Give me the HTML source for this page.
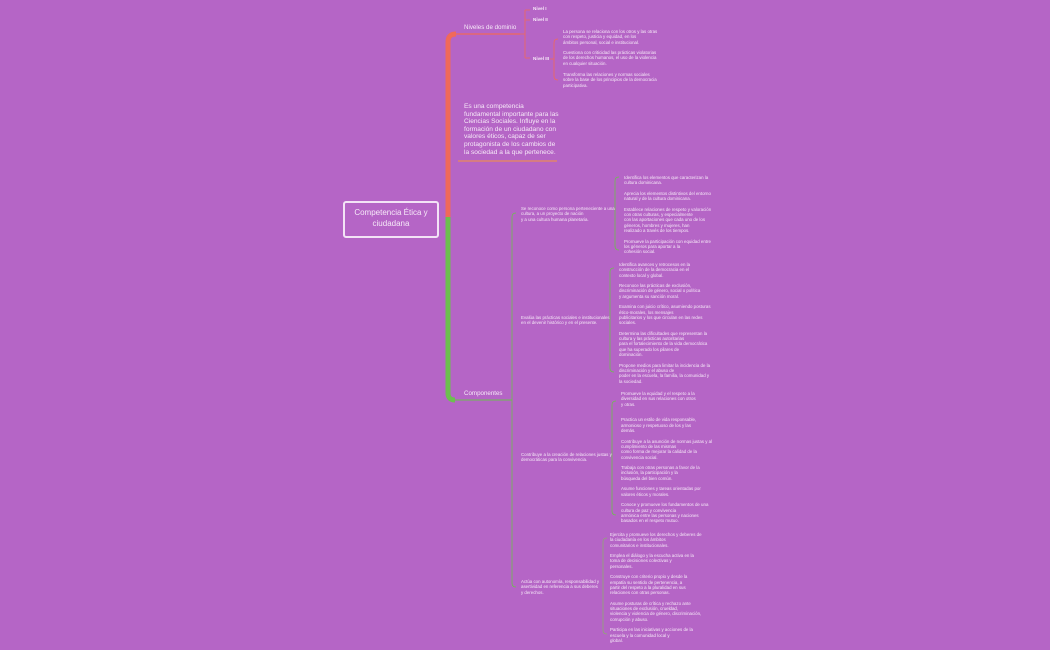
<!DOCTYPE html>
<html><head><meta charset="utf-8"><style>
html,body{margin:0;padding:0}
body{width:1050px;height:650px;background:#b565c6;position:relative;overflow:hidden;font-family:"Liberation Sans",sans-serif;color:#f6e9f8}
.t{position:absolute;font-size:4.4px;line-height:5.3px;white-space:nowrap}
.b{position:absolute;font-size:4.6px;font-weight:bold}
svg{position:absolute;left:0;top:0}
</style></head><body>
<svg width="1050" height="650">
<path d="M448 217 L448 42 Q448 34 456 34" stroke="#f0695a" stroke-width="5" fill="none"/>
<line x1="456" y1="34" x2="520" y2="34" stroke="#f0695a" stroke-width="1.2"/>
<path d="M520 34 L525 34 M525 10 L525 58 M525 10 L530 10 M525 20 L530 20 M525 58 L530 58" stroke="#f0695a" stroke-width="0.8" fill="none"/>
<path d="M558 39 Q554 39 554 43 L554 76 Q554 80 558 80 M554 59 L550 59" stroke="#f0695a" stroke-width="0.8" fill="none"/>
<line x1="458" y1="161" x2="557" y2="161" stroke="#e98a5a" stroke-width="1.2"/>
<path d="M448 217 L448 393 Q448 400 455 400" stroke="#6cbf4f" stroke-width="5" fill="none"/>
<line x1="455" y1="400" x2="512" y2="400" stroke="#6cbf4f" stroke-width="1"/>
<path d="M516 213 Q512 213 512 217 L512 583 Q512 587 516 587" stroke="#6cbf4f" stroke-width="0.8" fill="none"/>
<path d="M619 177 Q615 177 615 181 L615 246 Q615 250 619 250" stroke="#6cbf4f" stroke-width="0.8" fill="none"/>
<path d="M614 268 Q610 268 610 272 L610 368 Q610 372 614 372" stroke="#6cbf4f" stroke-width="0.8" fill="none"/>
<path d="M616 401 Q612 401 612 405 L612 511 Q612 515 616 515" stroke="#6cbf4f" stroke-width="0.8" fill="none"/>
<path d="M607 538 Q603 538 603 542 L603 630 Q603 634 607 634" stroke="#8fa874" stroke-width="0.8" fill="none"/>
</svg>
<div style="position:absolute;left:343px;top:201px;width:92px;height:29px;border:2px solid #f3e3f6;border-radius:3px;font-size:8px;line-height:11px;text-align:center;padding-top:4px">Competencia Ética y<br>ciudadana</div>
<div style="position:absolute;left:464px;top:24px;font-size:6.2px">Niveles de dominio</div>
<div style="position:absolute;left:464px;top:390px;font-size:6.2px">Componentes</div>
<div class="b" style="left:533px;top:6px">Nivel I</div>
<div class="b" style="left:533px;top:17px">Nivel II</div>
<div class="b" style="left:533px;top:56px">Nivel III</div>
<div class="t" style="left:563px;top:29px">La persona se relaciona con los otros y las otras<br>con respeto, justicia y equidad, en los<br>ámbitos personal, social e institucional.</div>
<div class="t" style="left:563px;top:50px">Cuestiona con criticidad las prácticas violatorias<br>de los derechos humanos, el uso de la violencia<br>en cualquier situación.</div>
<div class="t" style="left:563px;top:72px">Transforma las relaciones y normas sociales<br>sobre la base de los principios de la democracia<br>participativa.</div>
<div style="position:absolute;left:464px;top:103px;font-size:6.6px;line-height:7.6px">Es una competencia<br>fundamental importante para las<br>Ciencias Sociales. Influye en la<br>formación de un ciudadano con<br>valores éticos, capaz de ser<br>protagonista de los cambios de<br>la sociedad a la que pertenece.</div>
<div class="t" style="left:521px;top:206px">Se reconoce como persona perteneciente a una<br>cultura, a un proyecto de nación<br>y a una cultura humana planetaria.</div>
<div class="t" style="left:521px;top:315px">Evalúa las prácticas sociales e institucionales<br>en el devenir histórico y en el presente.</div>
<div class="t" style="left:521px;top:452px">Contribuye a la creación de relaciones justas y<br>democráticas para la convivencia.</div>
<div class="t" style="left:521px;top:579px">Actúa con autonomía, responsabilidad y<br>asertividad en referencia a sus deberes<br>y derechos.</div>
<div class="t" style="left:624px;top:175px">Identifica los elementos que caracterizan la<br>cultura dominicana.<br><br>Aprecia los elementos distintivos del entorno<br>natural y de la cultura dominicana.<br><br>Establece relaciones de respeto y valoración<br>con otras culturas, y especialmente<br>con las aportaciones que cada uno de los<br>géneros, hombres y mujeres, han<br>realizado a través de los tiempos.<br><br>Promueve la participación con equidad entre<br>los géneros para aportar a la<br>cohesión social.</div>
<div class="t" style="left:619px;top:262px">Identifica avances y retrocesos en la<br>construcción de la democracia en el<br>contexto local y global.<br><br>Reconoce las prácticas de exclusión,<br>discriminación de género, social o política<br>y argumenta su sanción moral.<br><br>Examina con juicio crítico, asumiendo posturas<br>ético-morales, los mensajes<br>publicitarios y los que circulan en las redes<br>sociales.<br><br>Determina las dificultades que representan la<br>cultura y las prácticas autoritarias<br>para el fortalecimiento de la vida democrática<br>que ha superado los pilares de<br>dominación.<br><br>Propone medios para limitar la incidencia de la<br>discriminación y el abuso de<br>poder en la escuela, la familia, la comunidad y<br>la sociedad.</div>
<div class="t" style="left:621px;top:391px">Promueve la equidad y el respeto a la<br>diversidad en sus relaciones con otros<br>y otras.<br><br><br>Practica un estilo de vida responsable,<br>armonioso y respetuoso de los y las<br>demás.<br><br>Contribuye a la asunción de normas justas y al<br>cumplimiento de las mismas<br>como forma de mejorar la calidad de la<br>convivencia social.<br><br>Trabaja con otras personas a favor de la<br>inclusión, la participación y la<br>búsqueda del bien común.<br><br>Asume funciones y tareas orientadas por<br>valores éticos y morales.<br><br>Conoce y promueve los fundamentos de una<br>cultura de paz y convivencia<br>armónica entre las personas y naciones<br>basados en el respeto mutuo.</div>
<div class="t" style="left:610px;top:532px">Ejercita y promueve los derechos y deberes de<br>la ciudadanía en los ámbitos<br>comunitarios e institucionales.<br><br>Emplea el diálogo y la escucha activa en la<br>toma de decisiones colectivas y<br>personales.<br><br>Construye con criterio propio y desde la<br>empatía su sentido de pertenencia, a<br>partir del respeto a la pluralidad en sus<br>relaciones con otras personas.<br><br>Asume posturas de crítica y rechazo ante<br>situaciones de exclusión, crueldad,<br>violencia y violencia de género, discriminación,<br>corrupción y abuso.<br><br>Participa en las iniciativas y acciones de la<br>escuela y la comunidad local y<br>global.</div>
</body></html>
